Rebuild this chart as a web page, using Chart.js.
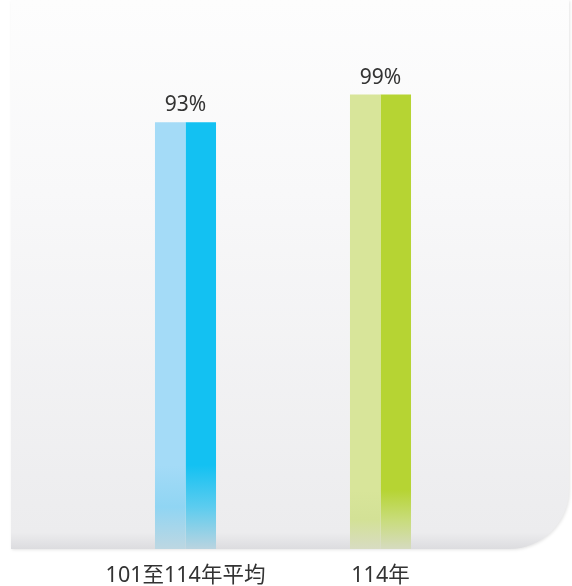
<!DOCTYPE html>
<html>
<head>
<meta charset="utf-8">
<script src="https://cdn.jsdelivr.net/npm/chart.js@4"></script>
<style>
  html, body { margin: 0; padding: 0; background: #ffffff; }
  #wrap { width: 572px; height: 586px; position: relative; }
</style>
</head>
<body>
<div id="wrap"><canvas id="rateChart"></canvas></div>
<script>
const categories = ['101至114年平均', '114年'];
const rates = [93, 99];
const valueLabels = ['93%', '99%'];

// light / dark half of each bar, a mid tone and the washed-out tone at the base
const lightColors = ['#a4dbf7', '#d8e59a'];
const darkColors = ['#13c1f2', '#b6d433'];
const lightMid = ['#90d5f3', '#d3e196'];
const darkMid = ['#5cccef', '#c8dc7a'];
const fadeFrom = [465, 490];
const baseLight = ['#bdd7e2', '#d8dcc2'];
const baseDark = ['#bad4e0', '#d6dbc0'];

const FONT = '"Noto Sans", "Noto Sans CJK TC", sans-serif';

function barFill(colors, mids, bases) {
  return function(ctx) {
    const chart = ctx.chart;
    const area = chart.chartArea;
    const i = ctx.dataIndex;
    if (!area) return colors[i];
    const g = chart.ctx.createLinearGradient(0, area.top, 0, area.bottom);
    const span = area.bottom - area.top;
    const stop = Math.min(Math.max((fadeFrom[i] - area.top) / span, 0), 1);
    g.addColorStop(0, colors[i]);
    g.addColorStop(stop, colors[i]);
    g.addColorStop((stop + 1) / 2, mids[i]);
    g.addColorStop(1, bases[i]);
    return g;
  };
}

// rounded panel behind the plot, white at the top, grey towards the base
const panelPlugin = {
  id: 'panel',
  beforeDraw(chart) {
    const c = chart.ctx;
    const left = 11, top = 0, right = 569, bottom = 549, r = 60;
    c.save();
    c.beginPath();
    c.moveTo(left, top);
    c.lineTo(right, top);
    c.lineTo(right, bottom - r);
    c.arcTo(right, bottom, right - r, bottom, r);
    c.lineTo(left, bottom);
    c.closePath();
    const g = c.createLinearGradient(0, top, 0, bottom);
    g.addColorStop(0, '#fdfdfd');
    g.addColorStop(0.35, '#f8f8f9');
    g.addColorStop(0.97, '#ececee');
    g.addColorStop(1, '#dcdcdf');
    c.fillStyle = g;
    c.shadowColor = 'rgba(0,0,0,0.10)';
    c.shadowBlur = 3;
    c.shadowOffsetX = 1;
    c.shadowOffsetY = 1;
    c.fill();
    c.restore();
  }
};

// value text above each bar
const valuePlugin = {
  id: 'values',
  afterDatasetsDraw(chart) {
    const c = chart.ctx;
    const a = chart.getDatasetMeta(0).data;
    const b = chart.getDatasetMeta(1).data;
    c.save();
    c.font = '21px ' + FONT;
    c.fillStyle = '#333333';
    c.textAlign = 'center';
    c.textBaseline = 'alphabetic';
    valueLabels.forEach((txt, i) => {
      const x = (a[i].x - a[i].width / 2 + b[i].x + b[i].width / 2) / 2;
      c.fillText(txt, x, a[i].y - 11);
    });
    c.restore();
  }
};

new Chart(document.getElementById('rateChart'), {
  type: 'bar',
  data: {
    labels: categories,
    datasets: [
      {
        label: 'light',
        data: rates,
        backgroundColor: barFill(lightColors, lightMid, baseLight),
        borderWidth: 0,
        barPercentage: 1,
        categoryPercentage: 0.313
      },
      {
        label: 'dark',
        data: rates,
        backgroundColor: barFill(darkColors, darkMid, baseDark),
        borderWidth: 0,
        barPercentage: 1,
        categoryPercentage: 0.313
      }
    ]
  },
  options: {
    responsive: true,
    maintainAspectRatio: false,
    animation: false,
    layout: { padding: { left: 88, right: 94, top: 90, bottom: 0 } },
    scales: {
      x: {
        grid: { display: false, drawTicks: false },
        border: { display: false },
        afterFit(scale) { scale.height = 37; },
        ticks: {
          color: '#333333',
          padding: 14,
          font: { family: FONT, size: 21.5 }
        }
      },
      y: {
        display: false,
        min: 0,
        max: 100
      }
    },
    plugins: {
      legend: { display: false },
      tooltip: { enabled: false }
    }
  },
  plugins: [panelPlugin]
    .concat([valuePlugin])
});
</script>
</body>
</html>
